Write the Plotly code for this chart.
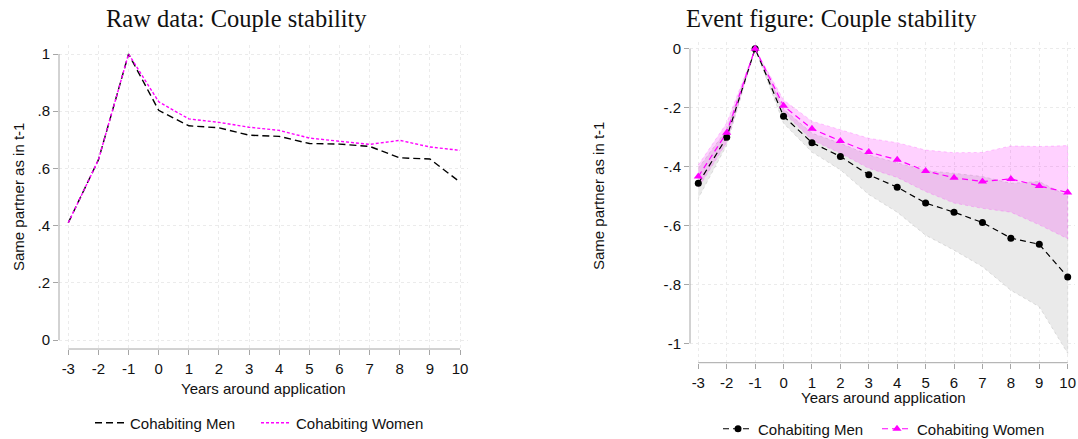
import plotly.graph_objects as go

# ---- data -------------------------------------------------------------
years = list(range(-3, 11))

# raw shares with the same partner as in t-1
raw_men = [0.41, 0.63, 1.0, 0.803, 0.749, 0.742, 0.716, 0.712, 0.687, 0.685, 0.677, 0.637, 0.633, 0.552]
raw_women = [0.41, 0.63, 1.0, 0.833, 0.773, 0.761, 0.744, 0.733, 0.706, 0.694, 0.684, 0.698, 0.675, 0.663]

# event-study coefficients with confidence bands
ev_men = [-0.457, -0.301, 0.0, -0.229, -0.319, -0.366, -0.428, -0.470, -0.524, -0.555, -0.590, -0.643, -0.664, -0.775]
ev_men_hi = [-0.406, -0.275, 0.0, -0.205, -0.287, -0.321, -0.361, -0.387, -0.414, -0.423, -0.434, -0.457, -0.451, -0.500]
ev_men_lo = [-0.508, -0.327, 0.0, -0.253, -0.351, -0.411, -0.495, -0.555, -0.633, -0.684, -0.740, -0.820, -0.876, -1.034]

ev_women = [-0.434, -0.285, 0.0, -0.194, -0.272, -0.313, -0.351, -0.377, -0.415, -0.438, -0.451, -0.442, -0.466, -0.488]
ev_women_hi = [-0.395, -0.252, 0.0, -0.174, -0.246, -0.275, -0.304, -0.319, -0.344, -0.353, -0.352, -0.330, -0.332, -0.329]
ev_women_lo = [-0.473, -0.318, 0.0, -0.216, -0.310, -0.355, -0.406, -0.437, -0.485, -0.524, -0.542, -0.555, -0.598, -0.645]

left_yticks = [0, 0.2, 0.4, 0.6, 0.8, 1]
left_ylabels = ["0", ".2", ".4", ".6", ".8", "1"]
right_yticks = [0, -0.2, -0.4, -0.6, -0.8, -1]
right_ylabels = ["0", "-.2", "-.4", "-.6", "-.8", "-1"]

# ---- geometry (pixels of a 1078 x 439 page) ---------------------------
W, H = 1078, 439
def px(x):
    return x / W
def py(y):
    return 1 - y / H

SANS = "Liberation Sans, Arial, sans-serif"
SERIF = "Liberation Serif, DejaVu Serif, serif"
AX = "#a6a6a6"
GRID = "#ebebeb"
FS = 15

fig = go.Figure()

# ---- left panel: raw data --------------------------------------------
fig.add_trace(go.Scatter(
    x=years, y=raw_men, mode="lines", name="Cohabiting Men",
    line=dict(color="black", width=1.4, dash="7px,4px"),
    xaxis="x", yaxis="y", legend="legend"))
fig.add_trace(go.Scatter(
    x=years, y=raw_women, mode="lines", name="Cohabiting Women",
    line=dict(color="#ff00ff", width=1.4, dash="3px,2px"),
    xaxis="x", yaxis="y", legend="legend2"))

# ---- right panel: event figure ---------------------------------------
fig.add_trace(go.Scatter(
    x=years + years[::-1], y=ev_men_hi + ev_men_lo[::-1],
    fill="toself", fillcolor="rgb(234,234,234)", mode="lines",
    line=dict(color="rgba(190,190,190,0.6)", width=0.8, dash="3px,3px"),
    showlegend=False, hoverinfo="skip", xaxis="x2", yaxis="y2"))
fig.add_trace(go.Scatter(
    x=years + years[::-1], y=ev_women_hi + ev_women_lo[::-1],
    fill="toself", fillcolor="rgba(255,0,255,0.18)", mode="lines",
    line=dict(color="rgba(255,0,255,0.25)", width=0.8, dash="3px,3px"),
    showlegend=False, hoverinfo="skip", xaxis="x2", yaxis="y2"))
fig.add_trace(go.Scatter(
    x=years, y=ev_men, mode="lines+markers", name="Cohabiting Men",
    line=dict(color="black", width=1.2, dash="6px,4px"),
    marker=dict(symbol="circle", size=7, color="black"),
    xaxis="x2", yaxis="y2", legend="legend3"))
fig.add_trace(go.Scatter(
    x=years, y=ev_women, mode="lines+markers", name="Cohabiting Women",
    line=dict(color="#ff00ff", width=1.2, dash="6px,4px"),
    marker=dict(symbol="triangle-up", size=8, color="#ff00ff"),
    xaxis="x2", yaxis="y2", legend="legend4"))

tickfont = dict(family=SANS, size=FS, color="#111")

def xaxis_cfg(left, right, lo, hi, anchor):
    return dict(
        domain=[px(left), px(right)], range=[lo, hi], anchor=anchor,
        tickvals=years, ticktext=[str(v) for v in years],
        ticks="outside", ticklen=5, tickcolor=AX, tickwidth=1,
        ticklabelstandoff=1, automargin=False,
        tickfont=tickfont, showline=False, zeroline=False,
        showgrid=True, gridcolor=GRID, griddash="dot", gridwidth=1,
        fixedrange=True)

def yaxis_cfg(top, bottom, lo, hi, anchor, vals, labels):
    return dict(
        domain=[py(bottom), py(top)], range=[lo, hi], anchor=anchor,
        tickvals=vals, ticktext=labels, automargin=False,
        ticks="outside", ticklen=5, tickcolor=AX, tickwidth=1,
        tickfont=tickfont, showline=False, zeroline=False,
        showgrid=True, gridcolor=GRID, griddash="dot", gridwidth=1,
        fixedrange=True)

# left: x=-3 at 68.3px, 10 at 460px; y=1 at 54px, 0 at 340px
l_ppu = (460 - 68.3) / 13
l_x0 = -3 - (68.3 - 59) / l_ppu
l_x1 = 10 + (468 - 460) / l_ppu
l_ypu = (340 - 54) / 1.0
l_ylo = -(349 - 340) / l_ypu
l_yhi = 1 + (54 - 45) / l_ypu

# right: x=-3 at 698.3px, 10 at 1067.7px; y=0 at 48.7px, -1 at 343.3px
r_ppu = (1067.7 - 698.3) / 13
r_x0 = -3 - (698.3 - 690) / r_ppu
r_x1 = 10 + (1075 - 1067.7) / r_ppu
r_ypu = (343.3 - 48.7) / 1.0
r_ylo = -1 - (362.7 - 343.3) / r_ypu
r_yhi = (48.7 - 42) / r_ypu

legend_font = dict(family=SANS, size=FS, color="#111")

def legend_at(x_left, y_mid):
    # one legend entry, placed by the left end of its key
    return dict(orientation="h", x=px(x_left), y=py(y_mid), xanchor="left", yanchor="middle",
                font=legend_font, bgcolor="rgba(0,0,0,0)", itemwidth=30)

fig.update_layout(
    width=W, height=H,
    margin=dict(l=0, r=0, t=0, b=0, autoexpand=False),
    paper_bgcolor="white", plot_bgcolor="white",
    xaxis=xaxis_cfg(59, 468, l_x0, l_x1, "y"),
    yaxis=yaxis_cfg(45, 349, l_ylo, l_yhi, "x", left_yticks, left_ylabels),
    xaxis2=xaxis_cfg(690, 1075, r_x0, r_x1, "y2"),
    yaxis2=yaxis_cfg(42, 362.7, r_ylo, r_yhi, "x2", right_yticks, right_ylabels),
    legend=legend_at(90, 423),
    legend2=legend_at(256, 423),
    legend3=legend_at(718, 429),
    legend4=legend_at(877, 429),
    showlegend=True,
)

# axis lines spanning only the labelled range
axis_line = dict(color=AX, width=1)
fig.add_shape(type="line", xref="x domain", yref="y", x0=0, x1=0, y0=0, y1=1, line=axis_line)
fig.add_shape(type="line", xref="x", yref="y domain", x0=-3, x1=10, y0=0, y1=0, line=axis_line)
fig.add_shape(type="line", xref="x2 domain", yref="y2", x0=0, x1=0, y0=-1, y1=0, line=axis_line)
fig.add_shape(type="line", xref="x2", yref="y2 domain", x0=-3, x1=10, y0=0, y1=0, line=axis_line)

# titles and axis titles
def note(text, x, y, size, family, angle=0):
    fig.add_annotation(text=text, x=px(x), y=py(y), xref="paper", yref="paper",
                       xanchor="center", yanchor="middle", showarrow=False,
                       textangle=angle, font=dict(family=family, size=size, color="#111"))

note("Raw data: Couple stability", 236, 19, 24.5, SERIF)
note("Event figure: Couple stability", 831, 19, 24.5, SERIF)
note("Same partner as in t-1", 18, 197, FS, SANS, angle=-90)
note("Same partner as in t-1", 598, 196, FS, SANS, angle=-90)
note("Years around application", 263, 388, FS, SANS)
note("Years around application", 883, 397, FS, SANS)

fig.write_html("out.html")
